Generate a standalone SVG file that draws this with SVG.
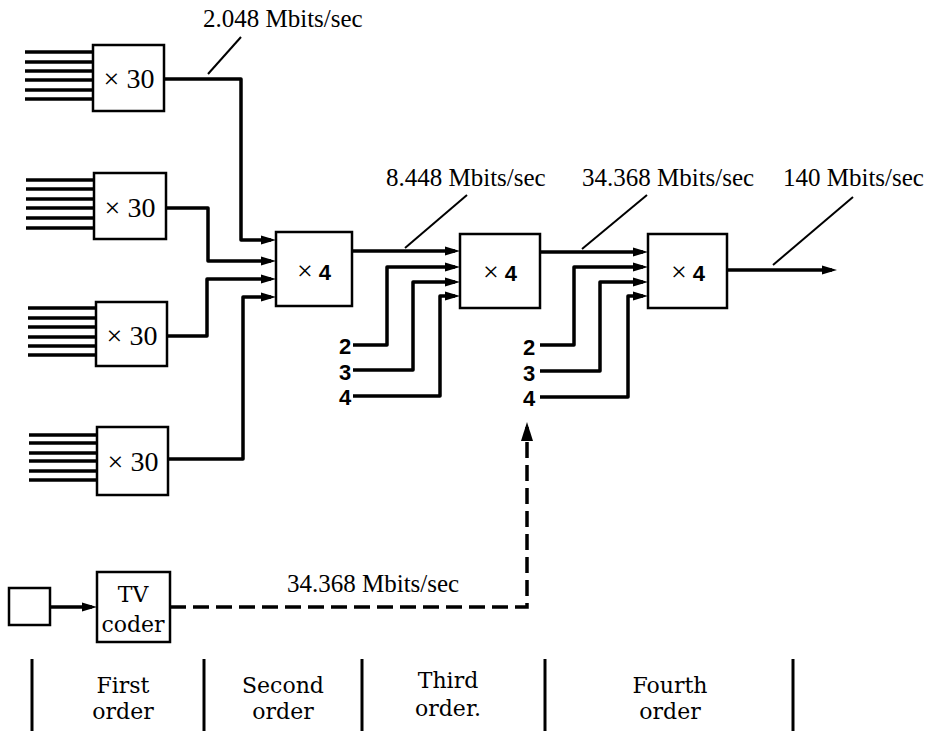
<svg xmlns="http://www.w3.org/2000/svg" width="930" height="731" viewBox="0 0 930 731">
<style>
.box{fill:#fff;stroke:#000;stroke-width:2.5}
.wire{fill:none;stroke:#000;stroke-width:3.5;stroke-linejoin:round}
.in{stroke:#000;stroke-width:3.5}
.lead{stroke:#000;stroke-width:2}
.dash{fill:none;stroke:#000;stroke-width:3.5;stroke-dasharray:16 7}
.sep{stroke:#000;stroke-width:3}
.t{font-family:'Liberation Serif',serif;font-size:25px;fill:#000}
.mx{font-family:'Liberation Serif',serif;font-size:28px;fill:#000}
.num{font-family:'Liberation Sans',sans-serif;font-size:22px;font-weight:bold;fill:#000}
.w{font-family:'DejaVu Serif',serif;font-size:22px;fill:#000}
</style>
<defs>
<marker id="ar" markerUnits="userSpaceOnUse" markerWidth="16" markerHeight="10" refX="10" refY="5" orient="auto">
<path d="M0,0.5 L15,5 L0,9.5 z" fill="#000"/>
</marker>
<marker id="au" markerUnits="userSpaceOnUse" markerWidth="20" markerHeight="14" refX="14" refY="7" orient="auto">
<path d="M0,1 L19,7 L0,13 z" fill="#000"/>
</marker>
</defs>

<g id="connectors">
<path class="wire" d="M164,79 H241 V240 H271" marker-end="url(#ar)"/>
<path class="wire" d="M166,208 H208 V261 H271" marker-end="url(#ar)"/>
<path class="wire" d="M167,336 H207 V279 H271" marker-end="url(#ar)"/>
<path class="wire" d="M168,459 H243 V297 H271" marker-end="url(#ar)"/>
<path class="wire" d="M352,251 H455" marker-end="url(#ar)"/>
<path class="wire" d="M353,345 H387 V267 H455" marker-end="url(#ar)"/>
<path class="wire" d="M353,370 H413 V282 H455" marker-end="url(#ar)"/>
<path class="wire" d="M353,396 H440 V296 H455" marker-end="url(#ar)"/>
<path class="wire" d="M540,252 H643" marker-end="url(#ar)"/>
<path class="wire" d="M540,345 H574 V267 H643" marker-end="url(#ar)"/>
<path class="wire" d="M540,371 H600 V282 H643" marker-end="url(#ar)"/>
<path class="wire" d="M540,397 H628 V296 H643" marker-end="url(#ar)"/>
<path class="wire" d="M727,270 H832" marker-end="url(#ar)"/>
<path class="wire" d="M50,607 H92" marker-end="url(#ar)"/>
<path class="dash" d="M170,607 H527 V427" marker-end="url(#au)"/>
<line class="lead" x1="208" y1="74" x2="241" y2="37"/>
<line class="lead" x1="405" y1="248" x2="467" y2="195"/>
<line class="lead" x1="582" y1="249" x2="647" y2="195"/>
<line class="lead" x1="773" y1="265" x2="853" y2="197"/>
</g>

<g id="mux1a">
<g class="in"><line x1="25" y1="52" x2="93" y2="52"/><line x1="25" y1="62" x2="93" y2="62"/><line x1="25" y1="71" x2="93" y2="71"/><line x1="25" y1="80" x2="93" y2="80"/><line x1="25" y1="90" x2="93" y2="90"/><line x1="25" y1="99" x2="93" y2="99"/></g>
<rect class="box" x="93" y="45" width="71" height="66"/>
<text class="mx" x="129" y="88" text-anchor="middle">× 30</text>
</g>
<g id="mux1b">
<g class="in"><line x1="26" y1="180" x2="94" y2="180"/><line x1="26" y1="189" x2="94" y2="189"/><line x1="26" y1="199" x2="94" y2="199"/><line x1="26" y1="208" x2="94" y2="208"/><line x1="26" y1="218" x2="94" y2="218"/><line x1="26" y1="228" x2="94" y2="228"/></g>
<rect class="box" x="94" y="173" width="72" height="66"/>
<text class="mx" x="130" y="217" text-anchor="middle">× 30</text>
</g>
<g id="mux1c">
<g class="in"><line x1="28" y1="308" x2="96" y2="308"/><line x1="28" y1="318" x2="96" y2="318"/><line x1="28" y1="327" x2="96" y2="327"/><line x1="28" y1="337" x2="96" y2="337"/><line x1="28" y1="346" x2="96" y2="346"/><line x1="28" y1="355" x2="96" y2="355"/></g>
<rect class="box" x="96" y="302" width="71" height="64"/>
<text class="mx" x="132" y="345" text-anchor="middle">× 30</text>
</g>
<g id="mux1d">
<g class="in"><line x1="29" y1="435" x2="97" y2="435"/><line x1="29" y1="443" x2="97" y2="443"/><line x1="29" y1="453" x2="97" y2="453"/><line x1="29" y1="461" x2="97" y2="461"/><line x1="29" y1="471" x2="97" y2="471"/><line x1="29" y1="480" x2="97" y2="480"/></g>
<rect class="box" x="97" y="427" width="71" height="68"/>
<text class="mx" x="133" y="471" text-anchor="middle">× 30</text>
</g>

<g id="mux2">
<rect class="box" x="276" y="232" width="76" height="74"/>
<text x="314" y="280" text-anchor="middle"><tspan class="mx">×</tspan><tspan class="num"> 4</tspan></text>
</g>
<g id="mux3">
<rect class="box" x="460" y="234" width="80" height="74"/>
<text x="500" y="281" text-anchor="middle"><tspan class="mx">×</tspan><tspan class="num"> 4</tspan></text>
</g>
<g id="mux4">
<rect class="box" x="648" y="234" width="79" height="74"/>
<text x="688" y="281" text-anchor="middle"><tspan class="mx">×</tspan><tspan class="num"> 4</tspan></text>
</g>

<g id="inputs3">
<text class="num" x="345" y="354" text-anchor="middle">2</text>
<text class="num" x="345" y="380" text-anchor="middle">3</text>
<text class="num" x="345" y="405" text-anchor="middle">4</text>
</g>
<g id="inputs4">
<text class="num" x="529" y="355" text-anchor="middle">2</text>
<text class="num" x="529" y="381" text-anchor="middle">3</text>
<text class="num" x="529" y="406" text-anchor="middle">4</text>
</g>

<g id="camera">
<rect class="box" x="9" y="588" width="41" height="37"/>
</g>
<g id="tvcoder">
<rect class="box" x="97" y="572" width="73" height="70"/>
<text class="w" x="133" y="602" text-anchor="middle">TV</text>
<text class="w" x="133" y="632" text-anchor="middle">coder</text>
</g>

<g id="labels">
<text class="t" x="203" y="27">2.048 Mbits/sec</text>
<text class="t" x="386" y="186">8.448 Mbits/sec</text>
<text class="t" x="582" y="186">34.368 Mbits/sec</text>
<text class="t" x="783" y="186">140 Mbits/sec</text>
<text class="t" x="287" y="592">34.368 Mbits/sec</text>
</g>

<g id="orders">
<line class="sep" x1="32" y1="659" x2="32" y2="731"/>
<line class="sep" x1="204" y1="659" x2="204" y2="731"/>
<line class="sep" x1="362" y1="659" x2="362" y2="731"/>
<line class="sep" x1="545" y1="659" x2="545" y2="731"/>
<line class="sep" x1="793" y1="659" x2="793" y2="731"/>
<text class="w" x="123" y="693" text-anchor="middle">First</text>
<text class="w" x="123" y="719" text-anchor="middle">order</text>
<text class="w" x="283" y="693" text-anchor="middle">Second</text>
<text class="w" x="283" y="719" text-anchor="middle">order</text>
<text class="w" x="448" y="688" text-anchor="middle">Third</text>
<text class="w" x="448" y="716" text-anchor="middle">order.</text>
<text class="w" x="670" y="693" text-anchor="middle">Fourth</text>
<text class="w" x="670" y="719" text-anchor="middle">order</text>
</g>
</svg>
